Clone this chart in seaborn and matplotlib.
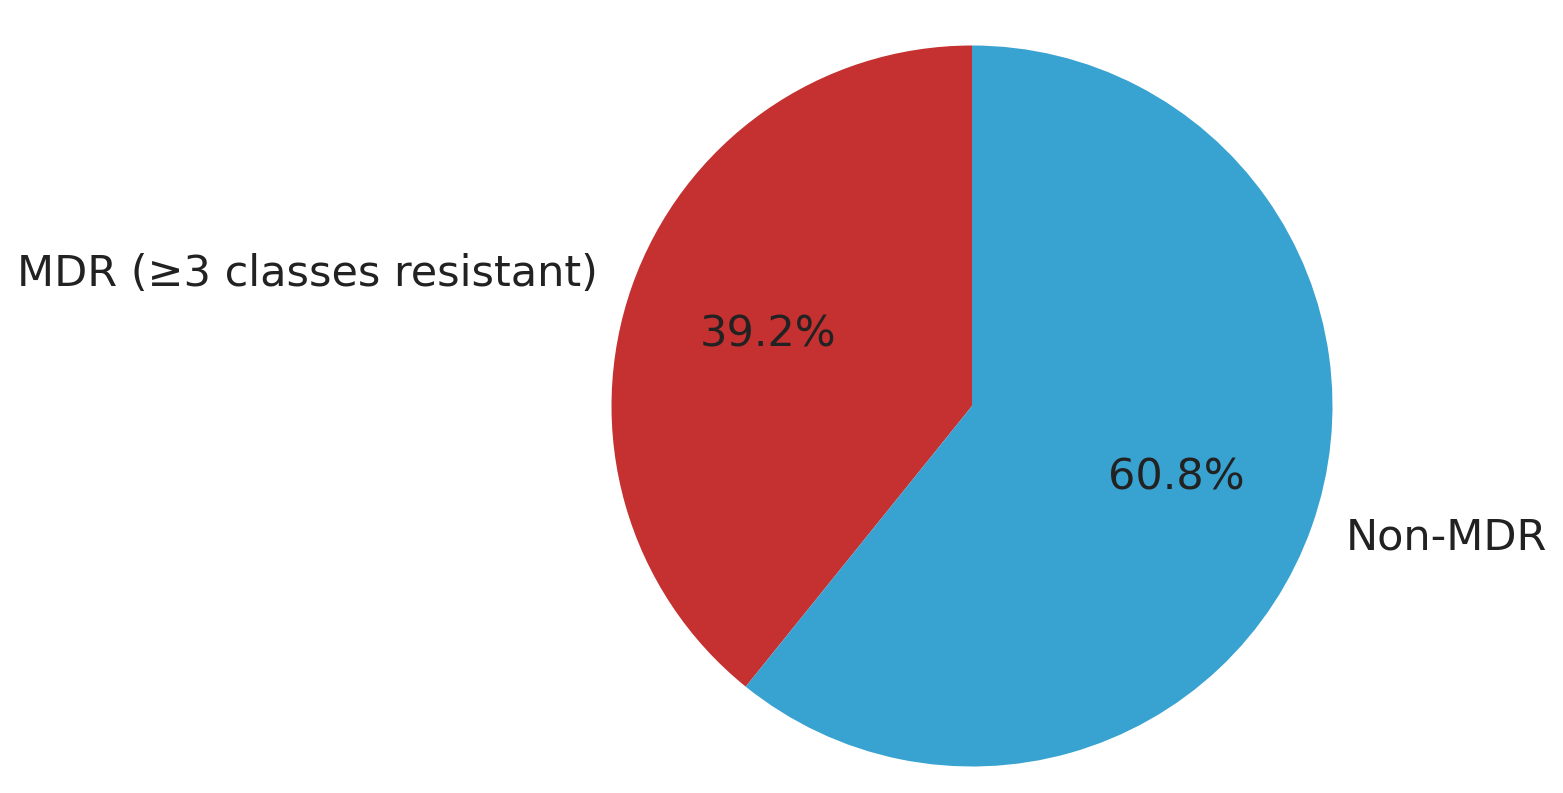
import matplotlib
matplotlib.use("Agg")
import matplotlib.pyplot as plt
import seaborn as sns

sns.set_theme(style="white")
plt.rcParams['font.family'] = ['DejaVu Sans']

categories = ["MDR (≥3 classes resistant)", "Non-MDR"]
values = [39.2, 60.8]
colors = ["#c43130", "#38a2d0"]

fig = plt.figure(figsize=(15.63, 7.93), dpi=100)
ax = fig.add_axes([611.5/1563, 26.5/793, 721/1563, 721/793])
ax.pie(values, labels=categories, colors=colors, autopct='%1.1f%%',
       startangle=90, counterclock=True,
       wedgeprops={'linewidth': 0},
       textprops={'fontsize': 31, 'color': '#222222'})
ax.set_xlim(-1, 1)
ax.set_ylim(-1, 1)
ax.set_aspect('equal')
fig.savefig("out.png", dpi=100)
